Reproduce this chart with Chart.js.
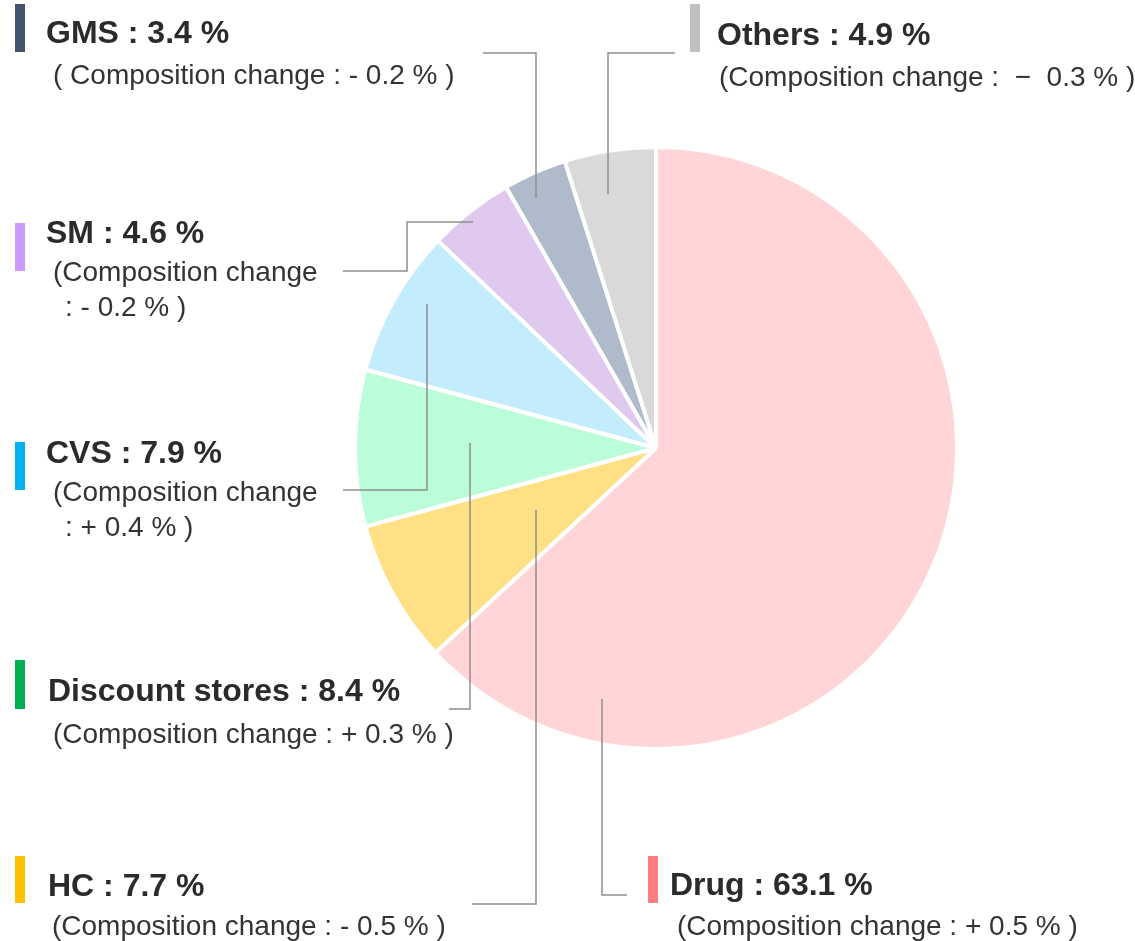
<!DOCTYPE html>
<html>
<head>
<meta charset="utf-8">
<script src="https://cdn.jsdelivr.net/npm/chart.js@4.4.0/dist/chart.umd.min.js"></script>
<style>
    html, body { margin: 0; padding: 0; background: #fff; }
    #wrap { width: 1135px; height: 941px; }
</style>
</head>
<body>
<div id="wrap"><canvas id="share-chart" width="1135" height="941"></canvas></div>
<script>
// data
const categories = ['Drug', 'HC', 'Discount stores', 'CVS', 'SM', 'GMS', 'Others'];
const shares = [63.1, 7.7, 8.4, 7.9, 4.6, 3.4, 4.9];
const changes = ['+ 0.5', '\u2010 0.5', '+ 0.3', '+ 0.4', '\u2010 0.2', '\u2010 0.2', '\u2212  0.3'];

const sliceColors = ['#ffd5d7', '#ffe084', '#bbfdd9', '#c3edfd', '#dfc9ee', '#afbbcb', '#d9d9d9'];
const markerColors = ['#ff7c80', '#ffc000', '#00b050', '#00b0f0', '#cc99ff', '#44546a', '#bfbfbf'];

// label layout (pixels): marker box, title baseline, subtitle lines
const labelLayout = [
    { mx: 648, my: 856, mh: 47, tx: 670, ty: 895, sub: [[677, 935, '(Composition change : {c} % )']] },
    { mx: 15, my: 856, mh: 47, tx: 48, ty: 896, sub: [[52, 935, '(Composition change : {c} % )']] },
    { mx: 15, my: 660, mh: 49, tx: 48, ty: 701, sub: [[53, 743, '(Composition change : {c} % )']] },
    { mx: 15, my: 442, mh: 48, tx: 46, ty: 463, sub: [[53, 501, '(Composition change'], [65, 536, ': {c} % )']] },
    { mx: 15, my: 223, mh: 48, tx: 46, ty: 243, sub: [[53, 281, '(Composition change'], [65, 316, ': {c} % )']] },
    { mx: 15, my: 4, mh: 48, tx: 46, ty: 43, sub: [[53, 84, '( Composition change : {c} % )']] },
    { mx: 690, my: 4, mh: 48, tx: 717, ty: 45, sub: [[719, 86, '(Composition change :  {c} % )']] },
];

// leader lines (pixels)
const leaders = [
    [[627, 895], [602, 895], [602, 699]],
    [[472, 904], [536, 904], [536, 510]],
    [[449, 709], [470, 709], [470, 443]],
    [[343, 490], [427, 490], [427, 304]],
    [[343, 271], [407, 271], [407, 222], [473, 222]],
    [[483, 53], [536, 53], [536, 198]],
    [[675, 53], [608, 53], [608, 194]],
];

const labelPlugin = {
    id: 'sideLabels',
    afterDraw(chart) {
        const c = chart.ctx;
        c.save();
        c.strokeStyle = '#8f8f8f';
        c.lineWidth = 1.5;
        leaders.forEach(pts => {
            c.beginPath();
            c.moveTo(pts[0][0], pts[0][1]);
            for (let i = 1; i < pts.length; i++) c.lineTo(pts[i][0], pts[i][1]);
            c.stroke();
        });

        c.textBaseline = 'alphabetic';
        c.textAlign = 'left';
        categories.forEach((name, i) => {
            const l = labelLayout[i];
            c.fillStyle = markerColors[i];
            c.fillRect(l.mx, l.my, 10, l.mh);

            c.fillStyle = '#2b2b2b';
            c.font = 'bold 32px Arial, "Liberation Sans", Helvetica, sans-serif';
            c.fillText(name + ' : ' + shares[i] + ' %', l.tx, l.ty);

            c.fillStyle = '#333333';
            c.font = '28px Arial, "Liberation Sans", Helvetica, sans-serif';
            l.sub.forEach(s => {
                c.fillText(s[2].replace('{c}', changes[i]), s[0], s[1]);
            });
        });
        c.restore();
    }
};

const ctx = document.getElementById('share-chart').getContext('2d');

const shareChart = new Chart(ctx, {
    type: 'pie',
    data: {
        labels: categories,
        datasets: [{
            data: shares,
            backgroundColor: sliceColors,
            borderColor: '#ffffff',
            borderWidth: 4,
            radius: 301,
        }],
    },
    options: {
        responsive: false,
        animation: false,
        devicePixelRatio: 1,
        layout: { padding: { left: 177, top: 0, right: 0, bottom: 45 } },
        plugins: {
            legend: { display: false },
            tooltip: { enabled: false },
        },
    },
    plugins: [labelPlugin],
});
</script>
</body>
</html>
